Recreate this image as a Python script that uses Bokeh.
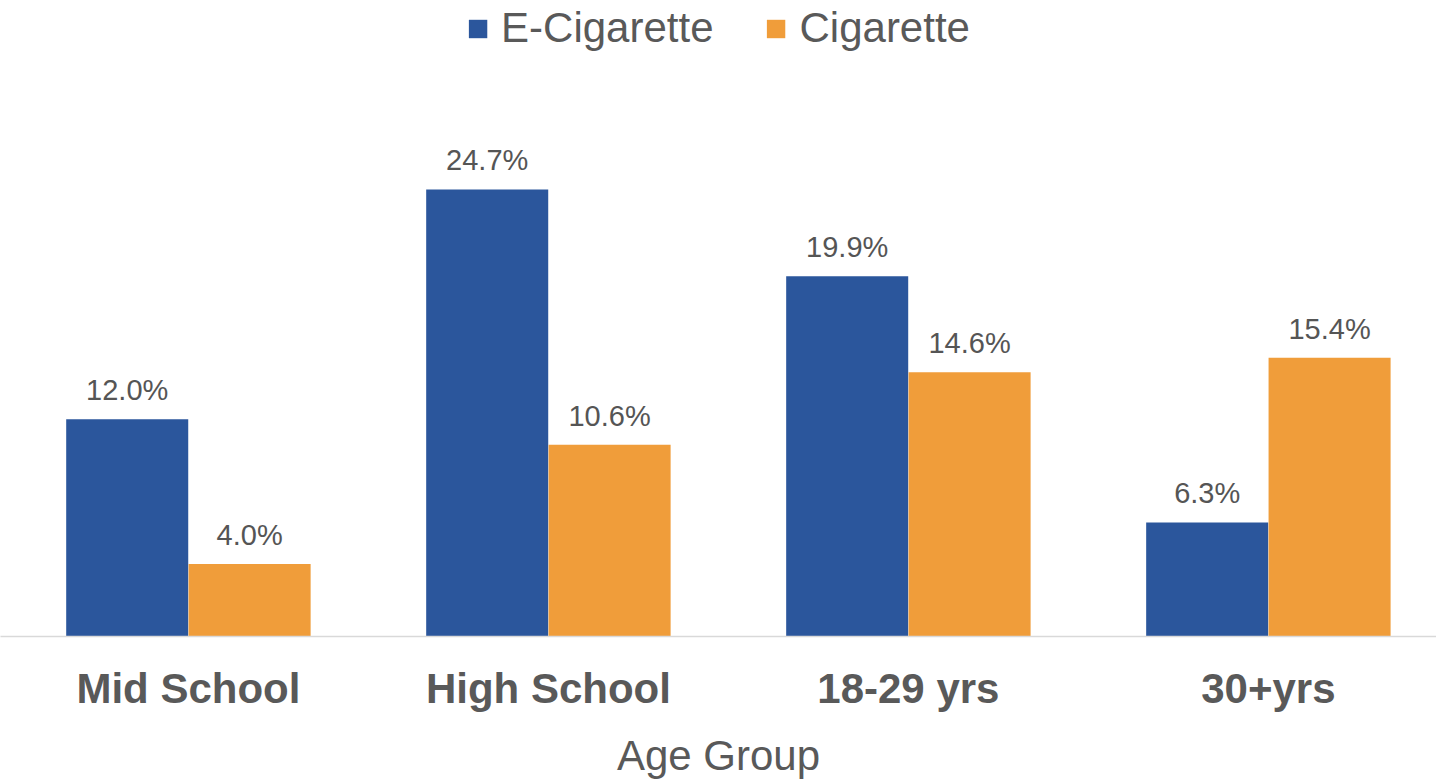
from bokeh.plotting import figure
from bokeh.models import ColumnDataSource, Range1d, FixedTicker, Legend, LegendItem, LabelSet
from bokeh.core.properties import value
from bokeh.embed import file_html
from bokeh.resources import INLINE

categories = ["Mid School", "High School", "18-29 yrs", "30+yrs"]
ecig = [12.0, 24.7, 19.9, 6.3]
cig = [4.0, 10.6, 14.6, 15.4]
series_names = ["E-Cigarette", "Cigarette"]
colors = ["#2b569c", "#f09d3a"]

idx = list(range(len(categories)))
off = 0.17
bw = 0.339

src_e = ColumnDataSource(dict(x=[i - off for i in idx], top=ecig, lab=[f"{v:.1f}%" for v in ecig]))
src_c = ColumnDataSource(dict(x=[i + off for i in idx], top=cig, lab=[f"{v:.1f}%" for v in cig]))

p = figure(width=1436, height=783, output_backend="svg", toolbar_location=None,
           x_range=Range1d(-0.522, 3.467), y_range=Range1d(0, 35.14),
           y_axis_location=None, min_border_left=0, min_border_right=0,
           min_border_top=0, min_border_bottom=147)
p.outline_line_color = None
p.grid.visible = False
p.background_fill_color = "white"
p.border_fill_color = "white"

r1 = p.vbar(x="x", top="top", width=bw, source=src_e, color=colors[0], line_color=None)
r2 = p.vbar(x="x", top="top", width=bw, source=src_c, color=colors[1], line_color=None)

for s in (src_e, src_c):
    p.add_layout(LabelSet(x="x", y="top", text="lab", source=s, text_align="center",
                          text_baseline="alphabetic", y_offset=19,
                          text_font=value("Liberation Sans"), text_font_size=value("29px"),
                          text_color=value("#555555")))

legend = Legend(items=[LegendItem(label=series_names[0], renderers=[r1]),
                       LegendItem(label=series_names[1], renderers=[r2])],
                location="top_center", orientation="horizontal",
                label_text_font="Liberation Sans", label_text_font_size="42px",
                label_text_color="#595959", glyph_width=23, glyph_height=23,
                spacing=51, label_standoff=12, padding=2, margin=4,
                border_line_color=None, background_fill_alpha=0)
p.add_layout(legend)

ax = p.xaxis[0]
ax.ticker = FixedTicker(ticks=idx)
ax.major_label_overrides = {i: c for i, c in zip(idx, categories)}
ax.major_label_text_font = "Liberation Sans"
ax.major_label_text_font_style = "bold"
ax.major_label_text_font_size = "42px"
ax.major_label_text_color = "#595959"
ax.major_label_standoff = 22
ax.major_tick_line_color = None
ax.minor_tick_line_color = None
ax.axis_line_color = "#d9d9d9"
ax.axis_line_width = 1.5
ax.axis_label = "Age Group"
ax.axis_label_text_font = "Liberation Sans"
ax.axis_label_text_font_style = "normal"
ax.axis_label_text_font_size = "42px"
ax.axis_label_text_color = "#595959"
ax.axis_label_standoff = 17

open("out.html", "w").write(file_html(p, INLINE))
